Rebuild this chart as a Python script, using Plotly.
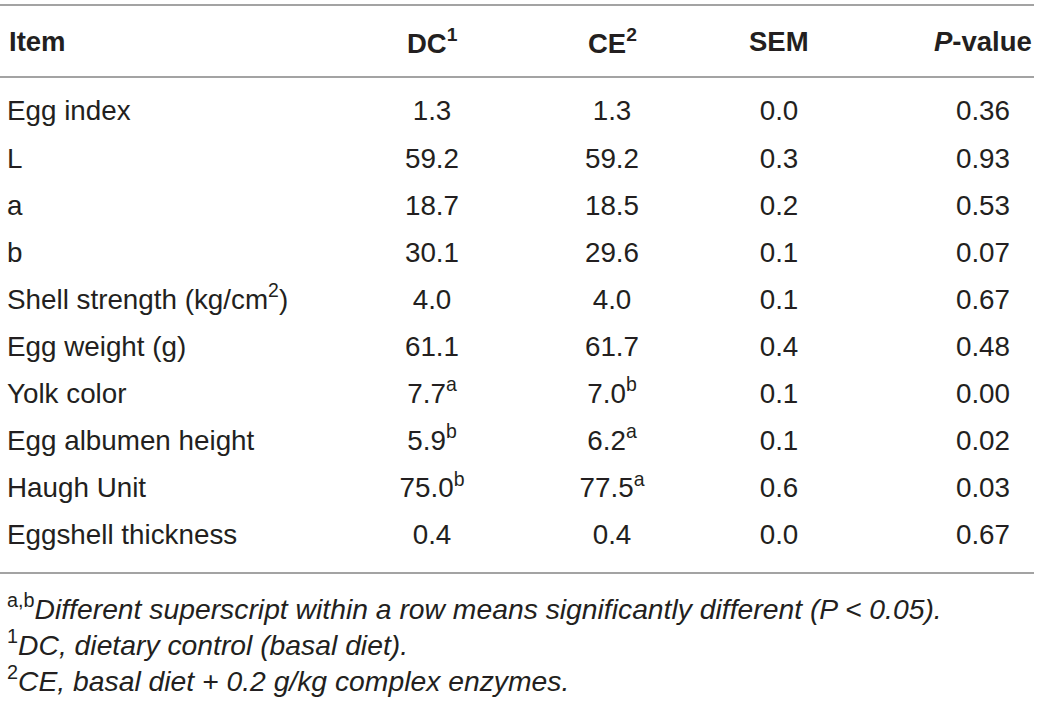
import plotly.graph_objects as go

# table data
items = ['Egg index', 'L', 'a', 'b', 'Shell strength (kg/cm<sup>2</sup>)', 'Egg weight (g)',
         'Yolk color', 'Egg albumen height', 'Haugh Unit', 'Eggshell thickness']
dc = [1.3, 59.2, 18.7, 30.1, 4.0, 61.1, 7.7, 5.9, 75.0, 0.4]
dc_sup = ['', '', '', '', '', '', 'a', 'b', 'b', '']
ce = [1.3, 59.2, 18.5, 29.6, 4.0, 61.7, 7.0, 6.2, 77.5, 0.4]
ce_sup = ['', '', '', '', '', '', 'b', 'a', 'a', '']
sem = [0.0, 0.3, 0.2, 0.1, 0.1, 0.4, 0.1, 0.1, 0.6, 0.0]
pval = [0.36, 0.93, 0.53, 0.07, 0.67, 0.48, 0.00, 0.02, 0.03, 0.67]

headers = ['Item', 'DC<sup>1</sup>', 'CE<sup>2</sup>', 'SEM', '<i>P</i>-value']
footnotes = [
    '<sup>a,b</sup><i>Different superscript within a row means significantly different (P < 0.05).</i>',
    '<sup>1</sup><i>DC, dietary control (basal diet).</i>',
    '<sup>2</sup><i>CE, basal diet + 0.2 g/kg complex enzymes.</i>',
]

W, H = 1040, 703
ROW0, ROW_H = 113.5, 47.1
HEAD_Y = 41
FOOT0, FOOT_H = 607, 36
col_x = [7, 432, 612, 779, 983]
TXT = '#231f20'
LINE = '#a3a3a3'
FONT = 'Liberation Sans'
FS = 27.8

row_y = [ROW0 + i * ROW_H for i in range(len(items))]


def fmt(vals, sups=None, nd=1):
    out = []
    for i, v in enumerate(vals):
        s = f'{v:.{nd}f}'
        if sups and sups[i]:
            s += f'<sup>{sups[i]}</sup>'
        out.append(s)
    return out


columns = [items, fmt(dc, dc_sup), fmt(ce, ce_sup), fmt(sem), fmt(pval, nd=2)]

fig = go.Figure()
for j, col in enumerate(columns):
    fig.add_trace(go.Scatter(
        x=[col_x[j]] * len(col), y=row_y, mode='text', text=col,
        textposition='middle right' if j == 0 else 'middle center',
        textfont=dict(family=FONT, size=FS, color=TXT),
        hoverinfo='skip', showlegend=False, cliponaxis=False,
    ))

for j, h in enumerate(headers):
    fig.add_annotation(x=col_x[j], y=HEAD_Y, text='<b>' + h + '</b>', showarrow=False,
                       xanchor='left' if j == 0 else 'center', yanchor='middle',
                       font=dict(family=FONT, size=27.5, color=TXT))

for k, t in enumerate(footnotes):
    fig.add_annotation(x=5, y=FOOT0 + k * FOOT_H, text=t, showarrow=False,
                       xanchor='left', yanchor='middle',
                       font=dict(family=FONT, size=28.3, color=TXT))

# horizontal rules
for yy in [5, 77, 573]:
    fig.add_shape(type='line', x0=0, x1=1034, y0=yy, y1=yy,
                  line=dict(color=LINE, width=2))

fig.update_xaxes(range=[0, W], visible=False, fixedrange=True)
fig.update_yaxes(range=[H, 0], visible=False, fixedrange=True)
fig.update_layout(width=W, height=H, margin=dict(l=0, r=0, t=0, b=0),
                  paper_bgcolor='white', plot_bgcolor='white')

# drop the default page margin so the figure sits at the window corner
fig.write_html('out.html', config={'displayModeBar': False},
               post_script="document.body.style.margin='0';")
